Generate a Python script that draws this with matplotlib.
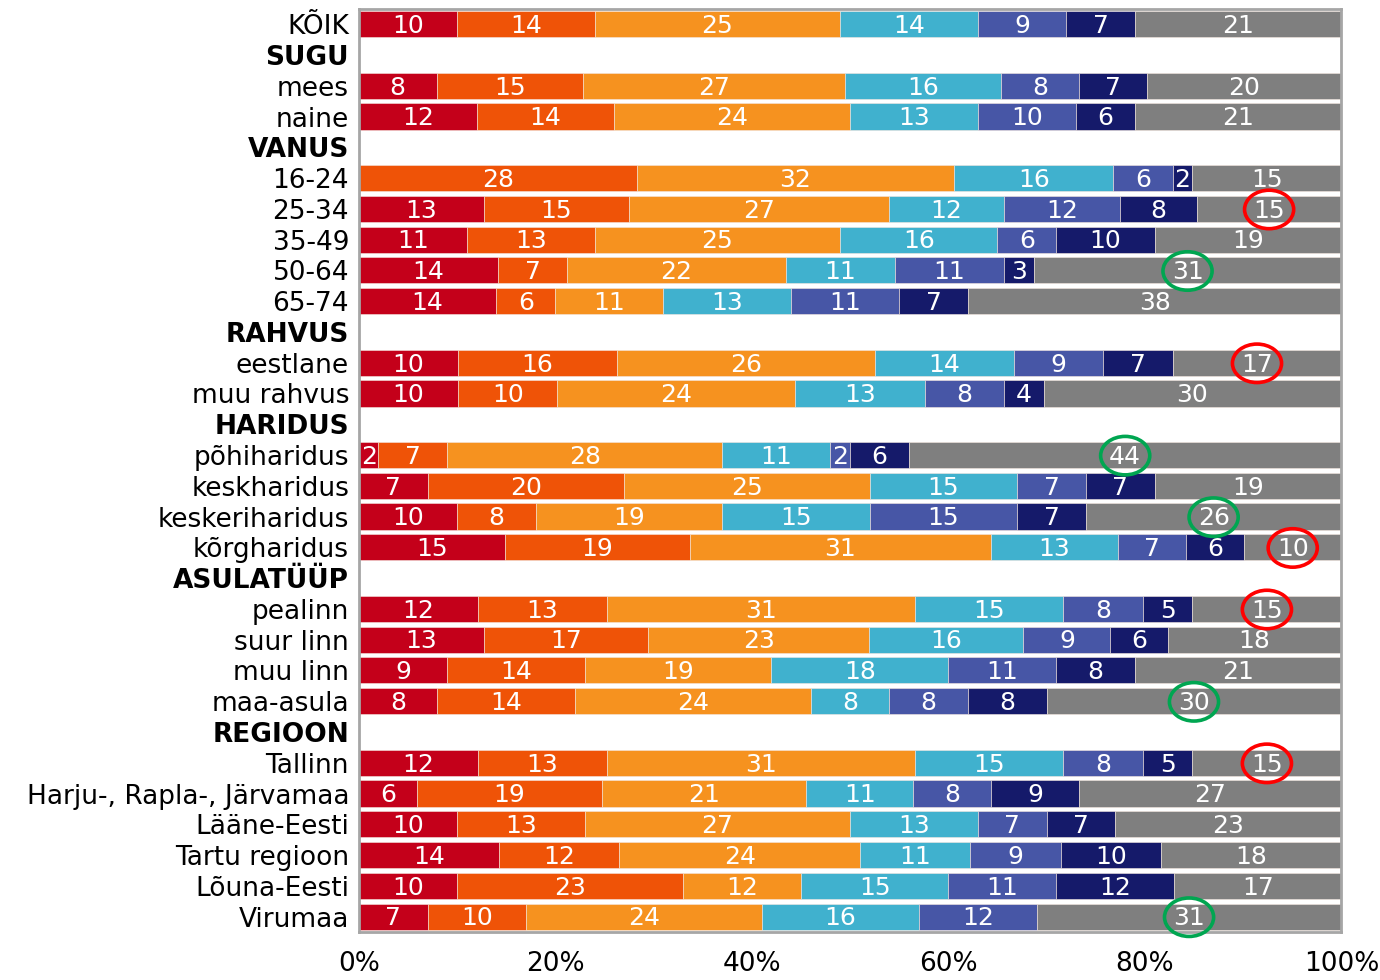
import matplotlib
matplotlib.use('Agg')
import matplotlib.pyplot as plt
from matplotlib.patches import Ellipse
import numpy as np

# rows top to bottom, headers have no data
labels = ['KÕIK', 'SUGU', 'mees', 'naine', 'VANUS', '16-24', '25-34', '35-49', '50-64', '65-74',
          'RAHVUS', 'eestlane', 'muu rahvus', 'HARIDUS', 'põhiharidus', 'keskharidus',
          'keskeriharidus', 'kõrgharidus', 'ASULATÜÜP', 'pealinn', 'suur linn', 'muu linn',
          'maa-asula', 'REGIOON', 'Tallinn', 'Harju-, Rapla-, Järvamaa', 'Lääne-Eesti',
          'Tartu regioon', 'Lõuna-Eesti', 'Virumaa']
headers = ['SUGU', 'VANUS', 'RAHVUS', 'HARIDUS', 'ASULATÜÜP', 'REGIOON']

values = {
    'KÕIK': [10, 14, 25, 14, 9, 7, 21],
    'mees': [8, 15, 27, 16, 8, 7, 20],
    'naine': [12, 14, 24, 13, 10, 6, 21],
    '16-24': [0, 28, 32, 16, 6, 2, 15],
    '25-34': [13, 15, 27, 12, 12, 8, 15],
    '35-49': [11, 13, 25, 16, 6, 10, 19],
    '50-64': [14, 7, 22, 11, 11, 3, 31],
    '65-74': [14, 6, 11, 13, 11, 7, 38],
    'eestlane': [10, 16, 26, 14, 9, 7, 17],
    'muu rahvus': [10, 10, 24, 13, 8, 4, 30],
    'põhiharidus': [2, 7, 28, 11, 2, 6, 44],
    'keskharidus': [7, 20, 25, 15, 7, 7, 19],
    'keskeriharidus': [10, 8, 19, 15, 15, 7, 26],
    'kõrgharidus': [15, 19, 31, 13, 7, 6, 10],
    'pealinn': [12, 13, 31, 15, 8, 5, 15],
    'suur linn': [13, 17, 23, 16, 9, 6, 18],
    'muu linn': [9, 14, 19, 18, 11, 8, 21],
    'maa-asula': [8, 14, 24, 8, 8, 8, 30],
    'Tallinn': [12, 13, 31, 15, 8, 5, 15],
    'Harju-, Rapla-, Järvamaa': [6, 19, 21, 11, 8, 9, 27],
    'Lääne-Eesti': [10, 13, 27, 13, 7, 7, 23],
    'Tartu regioon': [14, 12, 24, 11, 9, 10, 18],
    'Lõuna-Eesti': [10, 23, 12, 15, 11, 12, 17],
    'Virumaa': [7, 10, 24, 16, 12, 0, 31],
}

# rows whose last value is circled
red_rings = ['25-34', 'eestlane', 'kõrgharidus', 'pealinn', 'Tallinn']
green_rings = ['50-64', 'põhiharidus', 'keskeriharidus', 'maa-asula', 'Virumaa']

colors = ['#C4001A', '#EF5307', '#F6921F', '#40B1CE', '#4756A6', '#151A6A', '#7F7F7F']

plt.rcParams['font.family'] = ['DejaVu Sans']
fig = plt.figure(figsize=(13.8, 9.8), dpi=100)
ax = fig.add_axes([0.260, 0.049, 0.712, 0.942])

fs = 18
for i, lab in enumerate(labels):
    if lab not in values:
        continue
    v = np.array(values[lab], dtype=float)
    v = v / v.sum() * 100
    left = 0
    for j, w in enumerate(v):
        if w > 0:
            ax.barh(i, w, left=left, height=0.85, color=colors[j],
                    edgecolor='#F3E6E0', linewidth=0.4)
            ax.text(left + w / 2, i + 0.06, str(values[lab][j]), ha='center', va='center',
                    color='white', fontsize=fs)
        left += w
    gx = 100 - v[-1] / 2
    if lab in red_rings or lab in green_rings:
        c = '#FF0000' if lab in red_rings else '#00A651'
        ax.add_patch(Ellipse((gx, i + 0.02), 5.0, 1.25, fill=False, edgecolor=c,
                             linewidth=2.6, clip_on=False, zorder=5))

ax.set_xlim(0, 100)
ax.set_ylim(len(labels) - 0.5, -0.5)
ax.set_yticks(range(len(labels)))
ax.set_yticklabels(labels, fontsize=19)
for t in ax.get_yticklabels():
    if t.get_text() in headers:
        t.set_fontweight('bold')
ax.set_xticks([0, 20, 40, 60, 80, 100])
ax.set_xticklabels(['0%', '20%', '40%', '60%', '80%', '100%'], fontsize=19)
ax.tick_params(axis='both', length=0)
ax.tick_params(axis='x', pad=14)
ax.tick_params(axis='y', pad=7)
for s in ax.spines.values():
    s.set_color('#A6A6A6')
    s.set_linewidth(2)

fig.savefig('out.png', dpi=100)
